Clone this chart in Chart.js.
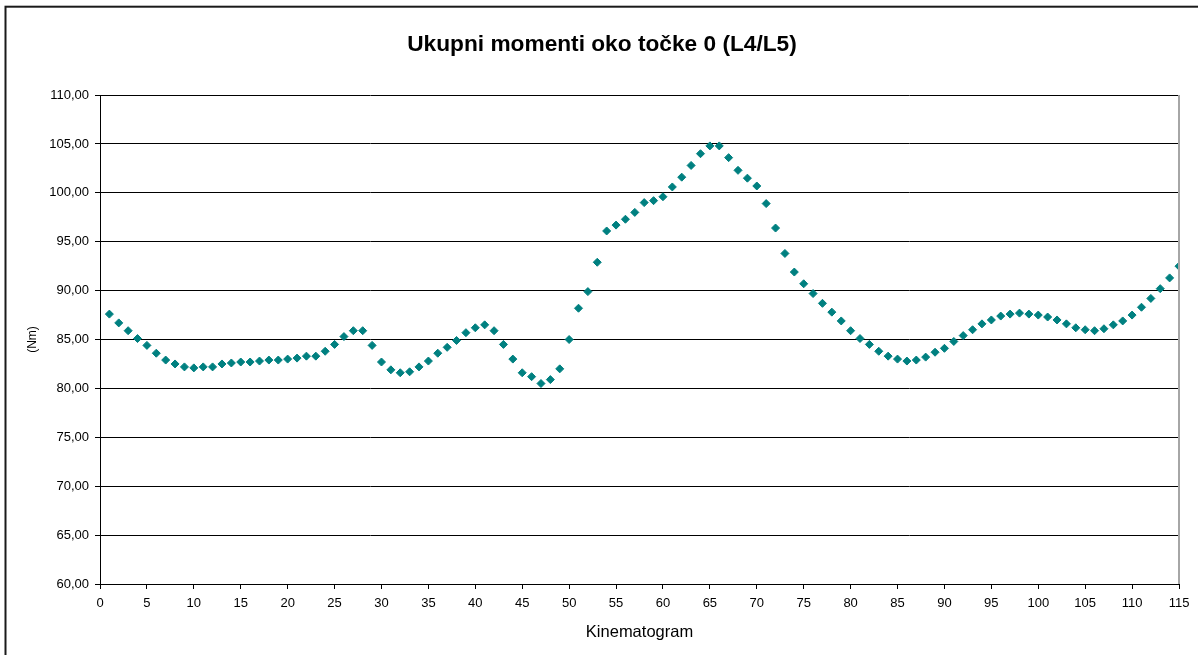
<!DOCTYPE html>
<html>
<head>
<meta charset="utf-8">
<title>Ukupni momenti</title>
<script src="https://cdn.jsdelivr.net/npm/chart.js@4/dist/chart.umd.min.js"></script>
<style>
  html, body { margin: 0; padding: 0; background: #fff; }
  #wrap { width: 1198px; height: 655px; position: relative; }
</style>
</head>
<body>
<div id="wrap"><canvas id="momentChart"></canvas></div>
<script>
/*******  Data: total moments around point 0 (L4/L5) ******/
var momentNm = [
  87.6, 86.7, 85.9, 85.1, 84.4, 83.6, 82.9, 82.5, 82.2, 82.1,
  82.2, 82.2, 82.5, 82.6, 82.7, 82.7, 82.8, 82.9, 82.9, 83.0,
  83.1, 83.3, 83.3, 83.8, 84.5, 85.3, 85.9, 85.9, 84.4, 82.7,
  81.9, 81.6, 81.7, 82.2, 82.8, 83.6, 84.2, 84.9, 85.7, 86.2,
  86.5, 85.9, 84.5, 83.0, 81.6, 81.2, 80.5, 80.9, 82.0, 85.0,
  88.2, 89.9, 92.9, 96.1, 96.7, 97.3, 98.0, 99.0, 99.2, 99.6,
  100.6, 101.6, 102.8, 104.0, 104.8, 104.8, 103.6, 102.3, 101.5, 100.7,
  98.9, 96.4, 93.8, 91.9, 90.7, 89.7, 88.7, 87.8, 86.9, 85.9,
  85.1, 84.5, 83.8, 83.3, 83.0, 82.8, 82.9, 83.2, 83.7, 84.1,
  84.8, 85.4, 86.0, 86.6, 87.0, 87.4, 87.6, 87.7, 87.6, 87.5,
  87.3, 87.0, 86.6, 86.2, 86.0, 85.9, 86.1, 86.5, 86.9, 87.5,
  88.3, 89.2, 90.2, 91.3, 92.5
];
// kinematogram frame numbers start at 1
var frames = momentNm.map(function (v, i) { return i + 1; });

var xTicks = { min: 0, max: 115, step: 5 };
var yTicks = { min: 60, max: 110, step: 5 };

var points = frames.map(function (f, i) { return { x: f, y: momentNm[i] }; });

var fontFamily = "Arial, 'Liberation Sans', sans-serif";

/*******  Frame around the whole chart + grey right edge of plot area ******/
var chartFrame = {
  id: 'chartFrame',
  beforeDraw: function (chart) {
    var c = chart.ctx;
    c.save();
    c.fillStyle = '#fff';
    c.fillRect(0, 0, chart.width, chart.height);
    c.strokeStyle = '#1a1a1a';
    c.lineWidth = 2;
    c.strokeRect(5.5, 6.7, chart.width + 50, chart.height + 50);
    c.restore();
  },
  afterDraw: function (chart) {
    var a = chart.chartArea;
    var c = chart.ctx;
    c.save();
    c.strokeStyle = '#a6a6a6';
    c.lineWidth = 2;
    c.beginPath();
    c.moveTo(a.right, a.top);
    c.lineTo(a.right, a.bottom);
    c.stroke();
    c.restore();
  }
};

var ctx = document.getElementById("momentChart");
var momentChart = new Chart(ctx, {
  type: 'scatter',
  data: {
    datasets: [
      {
        data: points,
        label: "Momenti",
        pointStyle: 'rectRot',
        pointRadius: 4,
        borderWidth: 1,
        backgroundColor: "#008080",
        borderColor: "#008080",
        showLine: false
      }
    ]
  },
  options: {
    responsive: true,
    maintainAspectRatio: false,
    animation: false,
    layout: { padding: { left: 25, right: 19, top: 0, bottom: 0 } },
    plugins: {
      legend: { display: false },
      tooltip: { enabled: false },
      title: {
        display: true,
        text: 'Ukupni momenti oko točke 0 (L4/L5)',
        color: '#000',
        font: { family: fontFamily, size: 22.7, weight: 'bold', lineHeight: 1.2 },
        padding: { top: 31, bottom: 36.8 }
      }
    },
    scales: {
      x: {
        type: 'linear',
        min: xTicks.min,
        max: xTicks.max,
        afterFit: function (s) { s.height = 71; },
        grid: { drawOnChartArea: false, drawTicks: true, tickLength: 5, color: '#000' },
        border: { color: '#000', width: 1 },
        ticks: {
          stepSize: xTicks.step,
          autoSkip: false,
          maxRotation: 0,
          padding: 7,
          color: '#000',
          font: { family: fontFamily, size: 13 }
        },
        title: {
          display: true,
          text: 'Kinematogram',
          color: '#000',
          font: { family: fontFamily, size: 16.5, lineHeight: 1.2 },
          padding: { top: 0, bottom: 13 }
        }
      },
      y: {
        min: yTicks.min,
        max: yTicks.max,
        afterFit: function (s) { s.width = 75; },
        grid: { color: '#000', lineWidth: 1, tickLength: 5 },
        border: { color: '#000', width: 1 },
        ticks: {
          stepSize: yTicks.step,
          padding: 6,
          color: '#000',
          font: { family: fontFamily, size: 13 },
          callback: function (v) { return v.toFixed(2).replace('.', ','); }
        },
        title: {
          display: true,
          text: '(Nm)',
          color: '#000',
          font: { family: fontFamily, size: 12, lineHeight: 1.2 },
          padding: { top: 0, bottom: 0 }
        }
      }
    }
  },
  plugins: [chartFrame]
});
</script>
</body>
</html>
